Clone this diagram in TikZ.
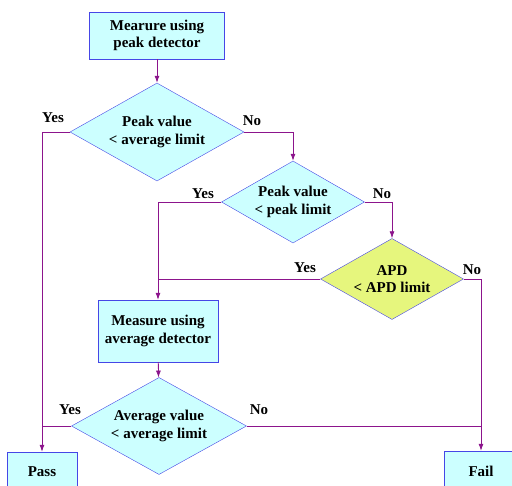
\documentclass[tikz,border=0pt]{standalone}
\usepackage{fontspec}
\setmainfont{Liberation Serif}
\usetikzlibrary{shapes.geometric,arrows.meta}
\definecolor{boxfill}{RGB}{204,255,255}
\definecolor{apdfill}{RGB}{230,246,125}
\definecolor{edge}{RGB}{70,70,230}
\definecolor{flowline}{RGB}{140,20,140}
\tikzset{
	procbox/.style={draw=edge,fill=boxfill,align=center,font=\fontsize{15}{17.5}\selectfont\bfseries},
	decision/.style={diamond,draw=edge,fill=boxfill,align=center,aspect=1.8,inner sep=0pt,font=\fontsize{15}{17.5}\selectfont\bfseries},
	flow/.style={draw=flowline,thick,-{Latex[length=7pt,width=5pt]}},
	merge/.style={draw=flowline,thick},
	answer/.style={font=\fontsize{15}{17.5}\selectfont\bfseries}
}
\begin{document}
\begin{tikzpicture}[x=1pt,y=-1pt]
		\useasboundingbox (0,0) rectangle (512,486);
		
		% boxes and decisions
		\node[procbox,minimum width=135pt,minimum height=47pt] (peakmeas) at (157,35.5) {Mearure using\\peak detector};
		\node[decision,minimum width=174pt,minimum height=98pt] (peakavg) at (157,132) {Peak value\\\textless{} average limit};
		\node[decision,minimum width=143pt,minimum height=82pt] (peakpk) at (293,202) {Peak value\\\textless{} peak limit};
		\node[decision,fill=apdfill,minimum width=143pt,minimum height=81pt] (apd) at (392,279) {APD\\\textless{} APD limit};
		\node[procbox,minimum width=120pt,minimum height=62pt] (avgmeas) at (158,331) {Measure using\\average detector};
		\node[decision,minimum width=175pt,minimum height=97pt] (avgval) at (159,426) {Average value\\\textless{} average limit};
		\node[procbox,minimum width=70pt,minimum height=40pt] (pass) at (42,472) {Pass};
		\node[procbox,minimum width=74pt,minimum height=40pt] (fail) at (481,471) {Fail};
		
		% connectors
		\draw[flow] (peakmeas) -- (peakavg);
		\draw[flow] (peakavg.west) -| (pass.north);
		\draw[flow] (peakavg.east) -| (peakpk.north);
		\draw[flow] (peakpk.west) -| (avgmeas.north);
		\draw[flow] (peakpk.east) -| (apd.north);
		\draw[merge] (apd.west) -- (apd.west -| avgmeas.north);
		\draw[flow] (apd.east) -| (fail.north);
		\draw[flow] (avgmeas) -- (avgval);
		\draw[merge] (avgval.west) -- (avgval.west -| pass.north);
		\draw[merge] (avgval.east) -- (avgval.east -| fail.north);
		
		% yes / no
		\node[answer] (yes1) at (53,118) {Yes};
		\node[answer] (no1) at (252,121) {No};
		\node[answer] (yes2) at (203,194) {Yes};
		\node[answer] (no2) at (382,194) {No};
		\node[answer] (yes3) at (305,268) {Yes};
		\node[answer] (no3) at (472,270) {No};
		\node[answer] (yes4) at (70,410) {Yes};
		\node[answer] (no4) at (259,410) {No};
		\end{tikzpicture}
\end{document}
